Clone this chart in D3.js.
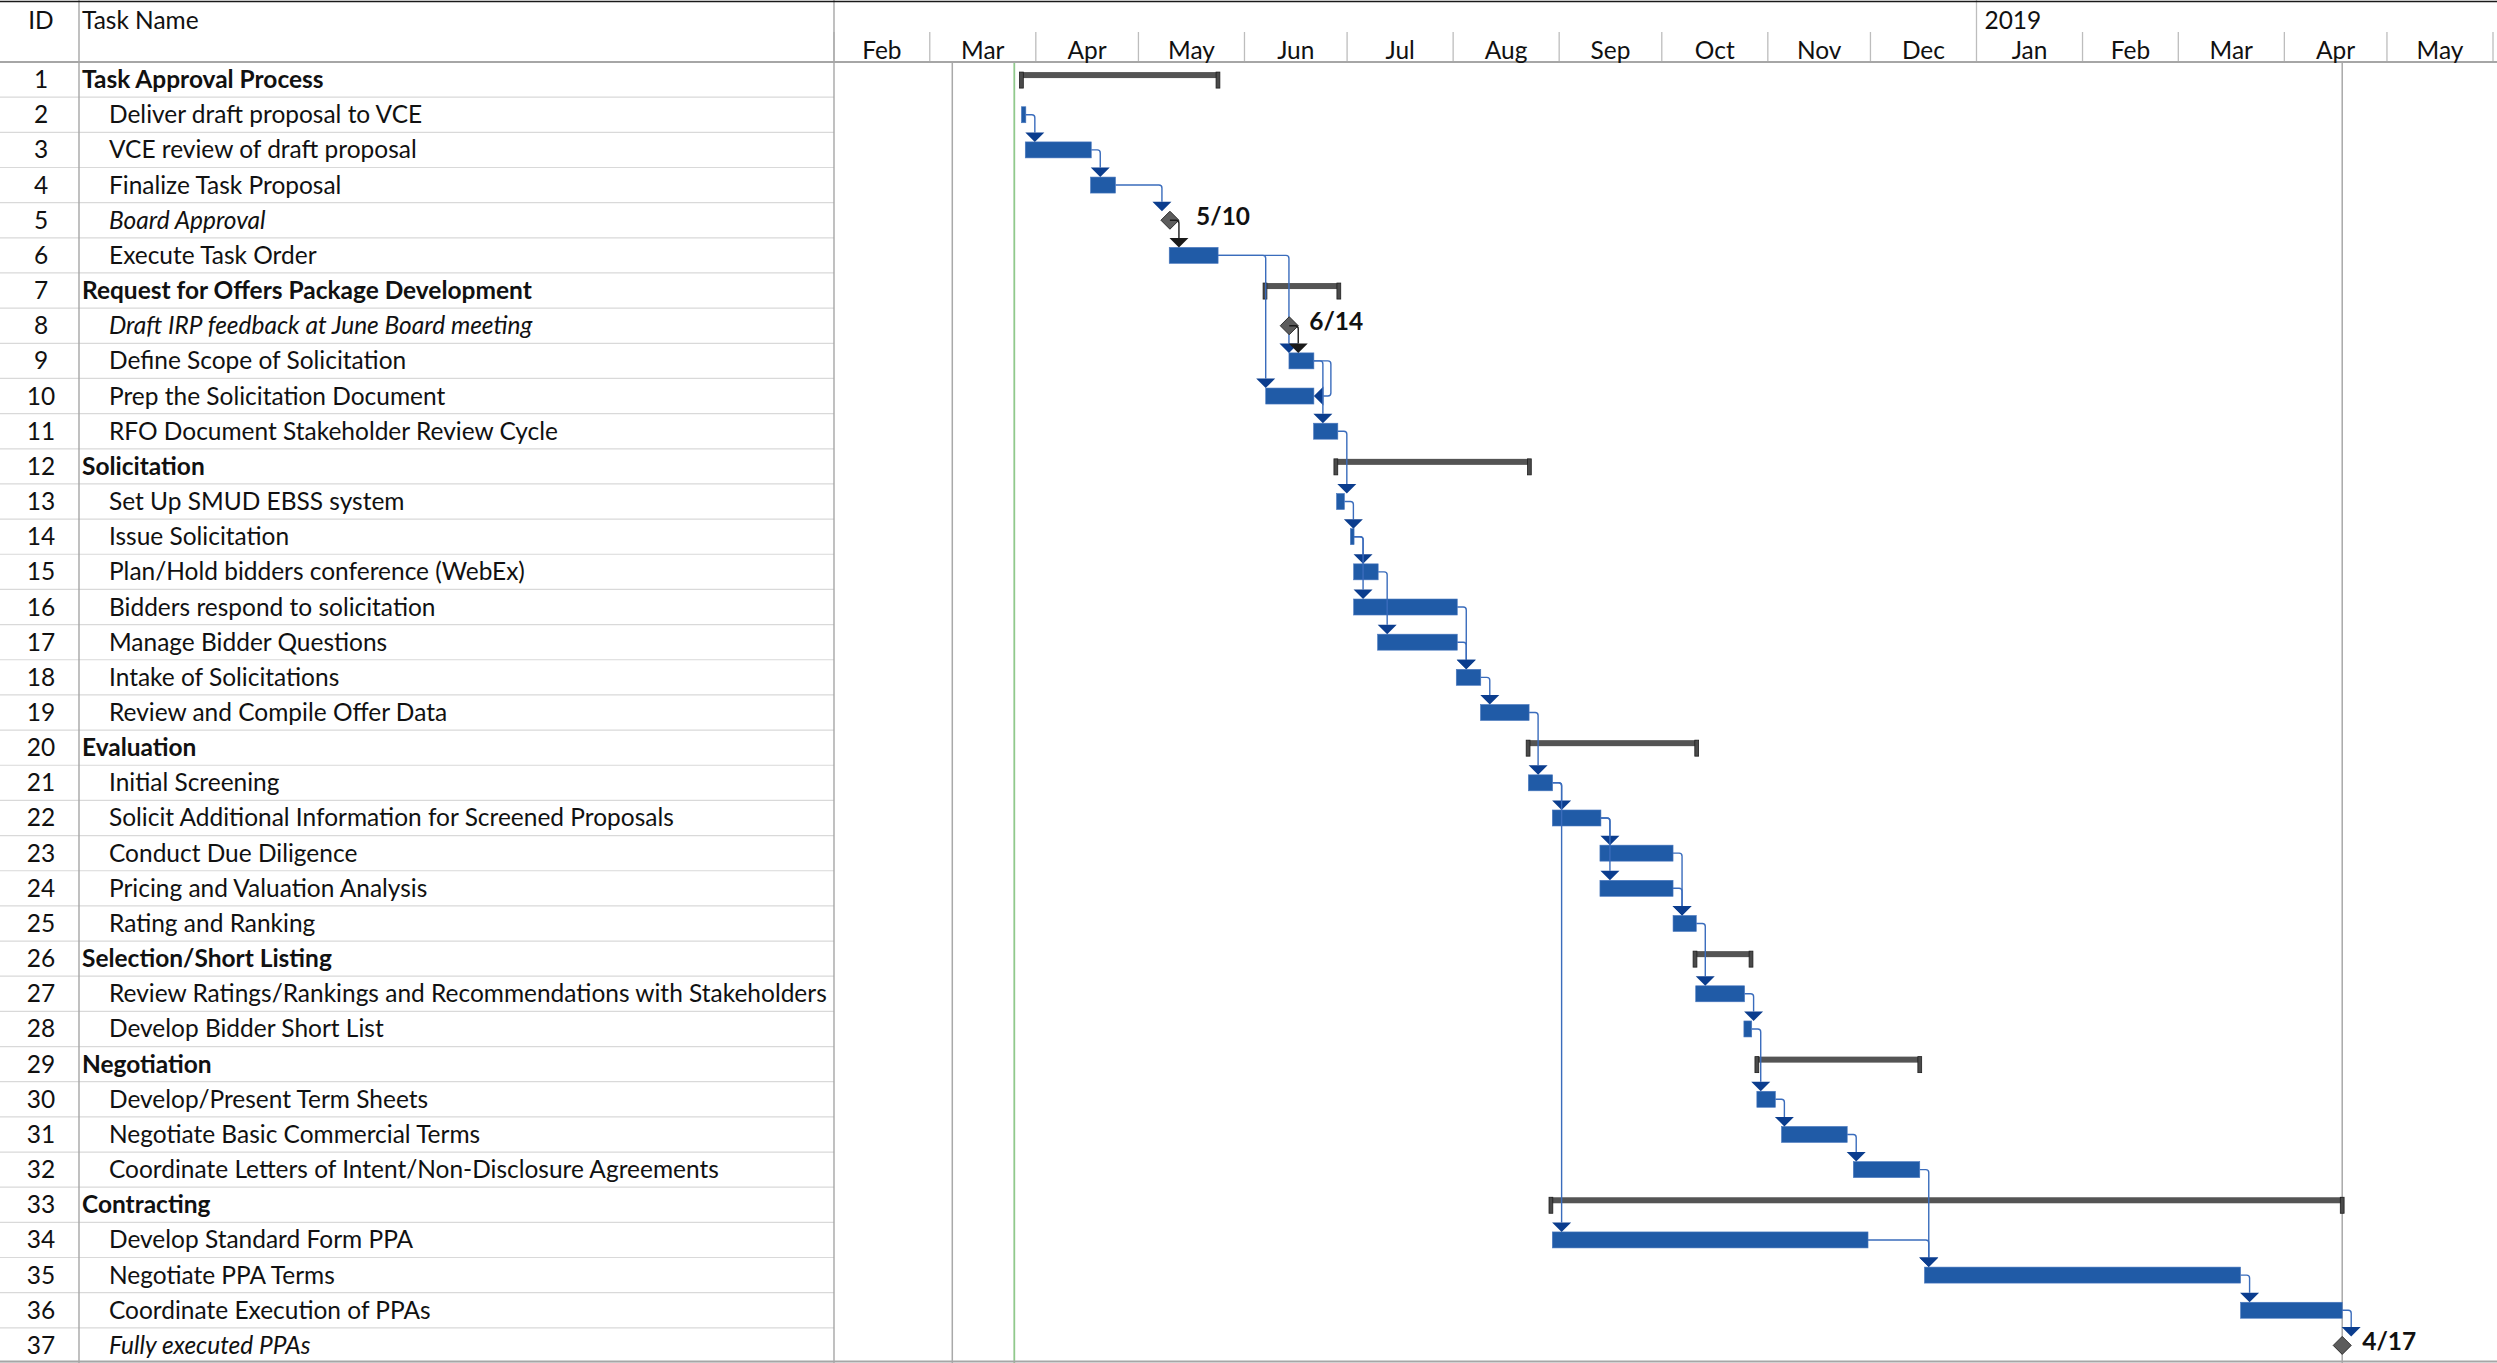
<!DOCTYPE html>
<html><head><meta charset="utf-8">
<script src="https://cdn.jsdelivr.net/npm/d3@7"></script>
<style>html,body{margin:0;padding:0;background:#fff;overflow:hidden}svg{display:block}</style>
</head><body>
<svg id="chart" width="2497" height="1363"></svg>
<script>
// ---------------- DATA ----------------
const taskIds = d3.range(1, 38);
const taskNames = [
  "Task Approval Process", "Deliver draft proposal to VCE", "VCE review of draft proposal",
  "Finalize Task Proposal", "Board Approval", "Execute Task Order",
  "Request for Offers Package Development", "Draft IRP feedback at June Board meeting",
  "Define Scope of Solicitation", "Prep the Solicitation Document", "RFO Document Stakeholder Review Cycle",
  "Solicitation", "Set Up SMUD EBSS system", "Issue Solicitation", "Plan/Hold bidders conference (WebEx)",
  "Bidders respond to solicitation", "Manage Bidder Questions", "Intake of Solicitations",
  "Review and Compile Offer Data", "Evaluation", "Initial Screening",
  "Solicit Additional Information for Screened Proposals", "Conduct Due Diligence",
  "Pricing and Valuation Analysis", "Rating and Ranking", "Selection/Short Listing",
  "Review Ratings/Rankings and Recommendations with Stakeholders", "Develop Bidder Short List",
  "Negotiation", "Develop/Present Term Sheets", "Negotiate Basic Commercial Terms",
  "Coordinate Letters of Intent/Non-Disclosure Agreements", "Contracting", "Develop Standard Form PPA",
  "Negotiate PPA Terms", "Coordinate Execution of PPAs", "Fully executed PPAs"
];
// S = summary, T = task, M = milestone
const taskKinds = [
  "S","T","T","T","M","T",
  "S","M","T","T","T",
  "S","T","T","T","T","T","T","T",
  "S","T","T","T","T","T",
  "S","T","T",
  "S","T","T","T",
  "S","T","T","T","M"
];
const startDates = [
  "2018-03-27 19","2018-03-27 19","2018-03-28 22","2018-04-17 00","2018-05-10 05","2018-05-10 00",
  "2018-06-07 00","2018-06-14 02","2018-06-14 00","2018-06-07 05","2018-06-21 05",
  "2018-06-27 17","2018-06-27 22","2018-07-01 23","2018-07-02 22","2018-07-02 22","2018-07-09 22","2018-08-01 22","2018-08-09 00",
  "2018-08-22 22","2018-08-23 00","2018-08-30 00","2018-09-12 22","2018-09-12 22","2018-10-04 07",
  "2018-10-10 17","2018-10-10 22","2018-10-25 00",
  "2018-10-28 19","2018-10-28 19","2018-11-05 00","2018-11-26 00",
  "2018-08-29 14","2018-08-30 00","2018-12-16 19","2019-03-19 05","2019-04-17 22"
];
const finishDates = [
  "2018-05-24 06","2018-03-29 02","2018-04-17 05","2018-04-24 07","2018-05-12 00","2018-05-24 07",
  "2018-06-28 14","2018-06-14 02","2018-06-21 07","2018-06-21 07","2018-06-28 07",
  "2018-08-23 07","2018-06-30 05","2018-07-03 01","2018-07-10 02","2018-08-02 05","2018-08-02 05","2018-08-09 02","2018-08-23 05",
  "2018-10-11 05","2018-08-30 02","2018-09-13 05","2018-10-04 07","2018-10-04 07","2018-10-11 02",
  "2018-10-27 02","2018-10-25 05","2018-10-27 07",
  "2018-12-15 10","2018-11-03 05","2018-11-24 05","2018-12-15 10",
  "2019-04-17 22","2018-11-30 07","2019-03-19 05","2019-04-17 22","2019-04-17 22"
];
const milestoneLabels = {5: "5/10", 8: "6/14", 37: "4/17"};
// dependency links
const linkFrom = [2,3,4,5,6,6,8,9,9,11,13,14,14,15,16,17,18,19,21,21,22,22,23,24,25,27,28,30,31,32,34,35,36];
const linkTo   = [3,4,5,6,9,10,9,10,11,13,14,15,16,17,18,18,19,21,22,34,23,24,25,25,27,28,30,31,32,35,35,36,37];
const linkType = linkFrom.map((f, i) => (f === 9 && linkTo[i] === 10) ? "FF" : "FS");
// timescale
const timeStart = "2018-02-01 00", timeEnd = "2019-06-01 00";
const monthLabels = ["Feb","Mar","Apr","May","Jun","Jul","Aug","Sep","Oct","Nov","Dec","Jan","Feb","Mar","Apr","May"];
const yearLabel = "2019";
const grayLineDates = ["2018-03-07 14", "2019-04-17 22"];
const greenLineDate = "2018-03-25 17";

// ---------------- LAYOUT ----------------
const W = 2497, H = 1363;
const headerH = 62, tableRight = 834, idRight = 79;
const parse = d3.utcParse("%Y-%m-%d %H");
const FONT = "Lato, 'Open Sans', sans-serif";
const svg = d3.select("#chart");

const x = d3.scaleUtc().domain([parse(timeStart), parse(timeEnd)]).range([834, 2493]);
const y = d3.scaleBand().domain(taskIds).range([headerH, H]).padding(0);
const bw = y.bandwidth();
const cy = id => y(id) + bw / 2;

const tasks = taskIds.map((id, i) => ({
  id, name: taskNames[i], kind: taskKinds[i],
  start: parse(startDates[i]), finish: parse(finishDates[i])
}));
const byId = new Map(tasks.map(t => [t.id, t]));

// font calibration on the longest label
const probe = svg.append("text").attr("font-family", FONT).attr("font-size", 20)
  .text("Review Ratings/Rankings and Recommendations with Stakeholders");
const fs = 20 * 718 / probe.node().getComputedTextLength();
probe.remove();

// ---------------- GRID ----------------
const grid = svg.append("g");
grid.selectAll("line.row").data(taskIds).join("line")
  .attr("x1", 0).attr("x2", tableRight)
  .attr("y1", d => y(d) + bw).attr("y2", d => y(d) + bw)
  .attr("stroke", "#d9d9d9").attr("stroke-width", 1.2);
const months = d3.utcMonth.range(parse(timeStart), d3.utcDay.offset(parse(timeEnd), 1));
grid.selectAll("line.mon").data(months).join("line")
  .attr("x1", d => x(d)).attr("x2", d => x(d))
  .attr("y1", d => d.getUTCMonth() === 0 ? 0 : 32).attr("y2", headerH)
  .attr("stroke", "#bdbdbd").attr("stroke-width", 1.3);
[idRight, tableRight].forEach(cx0 => grid.append("line")
  .attr("x1", cx0).attr("x2", cx0).attr("y1", 0).attr("y2", H)
  .attr("stroke", "#a6a6a6").attr("stroke-width", 1.4));
grayLineDates.forEach(d => grid.append("line")
  .attr("x1", x(parse(d))).attr("x2", x(parse(d))).attr("y1", headerH).attr("y2", H)
  .attr("stroke", "#a9a9a9").attr("stroke-width", 1.5));
grid.append("line").attr("x1", x(parse(greenLineDate))).attr("x2", x(parse(greenLineDate)))
  .attr("y1", headerH).attr("y2", H).attr("stroke", "#90c98c").attr("stroke-width", 1.8);
grid.append("line").attr("x1", 0).attr("x2", W).attr("y1", headerH).attr("y2", headerH)
  .attr("stroke", "#a6a6a6").attr("stroke-width", 2);
grid.append("line").attr("x1", 0).attr("x2", W).attr("y1", 1.5).attr("y2", 1.5)
  .attr("stroke", "#1a1a1a").attr("stroke-width", 1.6);
grid.append("line").attr("x1", 0).attr("x2", W).attr("y1", H - 1.5).attr("y2", H - 1.5)
  .attr("stroke", "#a6a6a6").attr("stroke-width", 2);

// ---------------- HEADER TEXT ----------------
const hdr = svg.append("g").attr("font-family", FONT).attr("font-size", fs).attr("fill", "#111");
hdr.append("text").attr("x", 41).attr("y", 29).attr("text-anchor", "middle").text("ID");
hdr.append("text").attr("x", 82).attr("y", 29).text("Task Name");
hdr.append("text").attr("x", x(d3.utcYear.ceil(parse(timeStart))) + 8).attr("y", 29).text(yearLabel);
hdr.selectAll("text.m").data(months.slice(0, monthLabels.length)).join("text")
  .attr("x", d => (x(d) + x(d3.utcMonth.offset(d, 1))) / 2).attr("y", 58.5)
  .attr("text-anchor", "middle").text((d, i) => monthLabels[i]);

// ---------------- TABLE TEXT ----------------
const tbl = svg.append("g").attr("font-family", FONT).attr("font-size", fs).attr("fill", "#111");
tbl.selectAll("text.id").data(tasks).join("text")
  .attr("x", 41).attr("y", d => cy(d.id) + 8.5).attr("text-anchor", "middle").text(d => d.id);
tbl.selectAll("text.nm").data(tasks).join("text")
  .attr("x", d => d.kind === "S" ? 82 : 109).attr("y", d => cy(d.id) + 8.5)
  .attr("font-weight", d => d.kind === "S" ? 700 : 400)
  .attr("font-style", d => d.kind === "M" ? "italic" : "normal")
  .text(d => d.name);

// ---------------- BARS ----------------
const bars = svg.append("g");
const sums = tasks.filter(t => t.kind === "S");
bars.selectAll("rect.sb").data(sums).join("rect")
  .attr("x", d => x(d.start)).attr("width", d => x(d.finish) - x(d.start))
  .attr("y", d => cy(d.id) - 7.5).attr("height", 6).attr("fill", "#545454");
sums.forEach(d => [d.start, d.finish].forEach(t => bars.append("rect")
  .attr("x", x(t) - 1.9).attr("width", 3.8).attr("y", cy(d.id) - 7.5).attr("height", 16)
  .attr("fill", "#4a4a4a").attr("stroke", "#1e1e1e").attr("stroke-width", 0.8)));
const tk = tasks.filter(t => t.kind === "T");
bars.selectAll("rect.tb").data(tk).join("rect")
  .attr("x", d => x(d.start)).attr("width", d => Math.max(2, x(d.finish) - x(d.start)))
  .attr("y", d => cy(d.id) - 8).attr("height", 16)
  .attr("fill", "#205ba7").attr("stroke", "#4a78bf").attr("stroke-width", 0.6);
const ms = tasks.filter(t => t.kind === "M");
bars.selectAll("text.ml").data(ms).join("text")
  .attr("x", d => x(d.finish) + 20).attr("y", d => cy(d.id) + 4.5)
  .attr("font-family", FONT).attr("font-size", fs * 1.0).attr("font-weight", 700).attr("fill", "#111")
  .text(d => milestoneLabels[d.id]);

// ---------------- LINKS ----------------
const links = svg.append("g").attr("fill", "none");
const heads = svg.append("g");
const msLayer = svg.append("g");
const blackLinks = svg.append("g").attr("fill", "none");
const r = 3, aw = 9.5, off = 9, md = 9;
const endX = t => t.kind === "M" ? x(t.start) : x(t.finish);
const startX = t => t.kind === "M" ? x(t.start) - 8 : x(t.start);
const sharedX = new Map();
linkFrom.forEach((f, i) => {
  if (linkType[i] !== "FS") return;
  const p = byId.get(f), s = byId.get(linkTo[i]);
  if (p.kind === "M") return;
  const v = Math.max(endX(p) + off, startX(s));
  sharedX.set(s.id, Math.max(sharedX.get(s.id) || -Infinity, v));
});
linkFrom.forEach((f, i) => {
  const p = byId.get(f), s = byId.get(linkTo[i]);
  const black = p.kind === "M";
  const layer = black ? blackLinks : links;
  const col = black ? "#1a1a1a" : "#3a6cbc";
  const hcol = black ? "#1a1a1a" : "#0b3d8e";
  const sx = endX(p), sy = cy(p.id);
  if (linkType[i] === "FS") {
    const lx = black ? Math.max(sx + off, startX(s)) : sharedX.get(s.id);
    const ey = cy(s.id) - (s.kind === "M" ? md : 8);
    layer.append("path")
      .attr("d", `M${sx},${sy}H${lx - r}Q${lx},${sy} ${lx},${sy + r}V${ey - aw}`)
      .attr("stroke", col).attr("stroke-width", 1.4);
    layer.append("path").attr("d", `M${lx - aw},${ey - aw}L${lx + aw},${ey - aw}L${lx},${ey}Z`)
      .attr("fill", hcol).attr("stroke", "none");
  } else {
    const ex = sx + 17, ty = cy(s.id), tx = x(s.finish);
    layer.append("path")
      .attr("d", `M${sx},${sy}H${ex - r}Q${ex},${sy} ${ex},${sy + r}V${ty - r}Q${ex},${ty} ${ex - r},${ty}H${tx + aw}`)
      .attr("stroke", col).attr("stroke-width", 1.4);
    layer.append("path").attr("d", `M${tx},${ty}L${tx + aw},${ty - aw}L${tx + aw},${ty + aw}Z`)
      .attr("fill", hcol).attr("stroke", "none");
  }
});
// milestone diamonds drawn over blue links, under their own black links
msLayer.selectAll("path.ms").data(ms).join("path")
  .attr("d", d => { const cx0 = x(d.start), c = cy(d.id);
    return `M${cx0},${c - md}L${cx0 + md},${c}L${cx0},${c + md}L${cx0 - md},${c}Z`; })
  .attr("fill", "#5c5c5c").attr("stroke", "#2e2e2e").attr("stroke-width", 1);
</script>
</body></html>
